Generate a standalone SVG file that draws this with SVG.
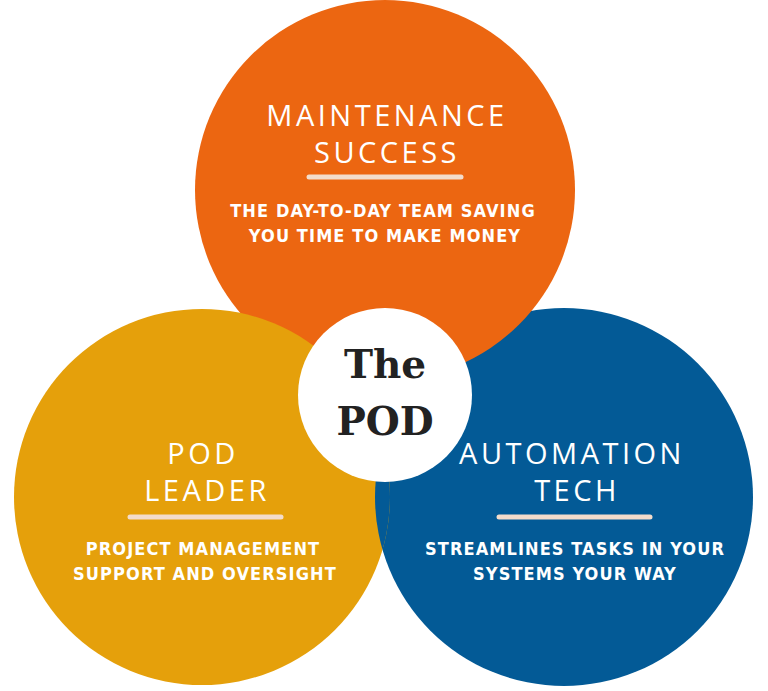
<svg xmlns="http://www.w3.org/2000/svg" width="768" height="691" viewBox="0 0 768 691">
<style>
.t{font-family:"Open Sans","Liberation Sans",sans-serif;font-size:29px;fill:#fff;text-anchor:middle;letter-spacing:3.5px}
.s{font-family:"DejaVu Sans Condensed","DejaVu Sans",sans-serif;font-weight:bold;font-size:18px;fill:#fff;text-anchor:middle;letter-spacing:1.1px}
.u{stroke:#f3dccb;stroke-width:5;stroke-linecap:round}
.c{font-family:"DejaVu Serif","Liberation Serif",serif;font-weight:bold;font-size:39px;fill:#222;text-anchor:middle}
</style>
<defs><clipPath id="cy"><circle cx="202" cy="497" r="188"/></clipPath></defs>
<rect width="768" height="691" fill="#fff"/>
<g id="automation-tech-circle"><circle cx="564" cy="497" r="189" fill="#035a96"/></g>
<g id="maintenance-circle"><circle cx="385" cy="190" r="190" fill="#ec6611"/></g>
<g id="pod-leader-circle"><circle cx="202" cy="497" r="188" fill="#e5a00b"/>
<circle cx="564" cy="497" r="189" fill="#035a96" clip-path="url(#cy)"/></g>
<g id="maintenance">
<text class="t" x="387" y="126">MAINTENANCE</text>
<text class="t" x="387" y="163">SUCCESS</text>
<line class="u" x1="309" y1="177" x2="461" y2="177"/>
<text class="s" x="383" y="217">THE DAY-TO-DAY TEAM SAVING</text>
<text class="s" x="385" y="242">YOU TIME TO MAKE MONEY</text>
</g>
<g id="pod-leader">
<text class="t" x="203" y="464">POD</text>
<text class="t" x="207" y="501">LEADER</text>
<line class="u" x1="130" y1="517" x2="281" y2="517"/>
<text class="s" x="203" y="555">PROJECT MANAGEMENT</text>
<text class="s" x="205" y="580">SUPPORT AND OVERSIGHT</text>
</g>
<g id="automation">
<text class="t" x="572" y="464">AUTOMATION</text>
<text class="t" x="577" y="501">TECH</text>
<line class="u" x1="499" y1="517" x2="650" y2="517"/>
<text class="s" x="575" y="555">STREAMLINES TASKS IN YOUR</text>
<text class="s" x="575" y="580">SYSTEMS YOUR WAY</text>
</g>
<g id="the-pod"><circle cx="385" cy="395" r="87" fill="#fff"/>
<text class="c" x="385" y="378">The</text>
<text class="c" x="385" y="435">POD</text></g>
<g id="connectors"/>
</svg>
